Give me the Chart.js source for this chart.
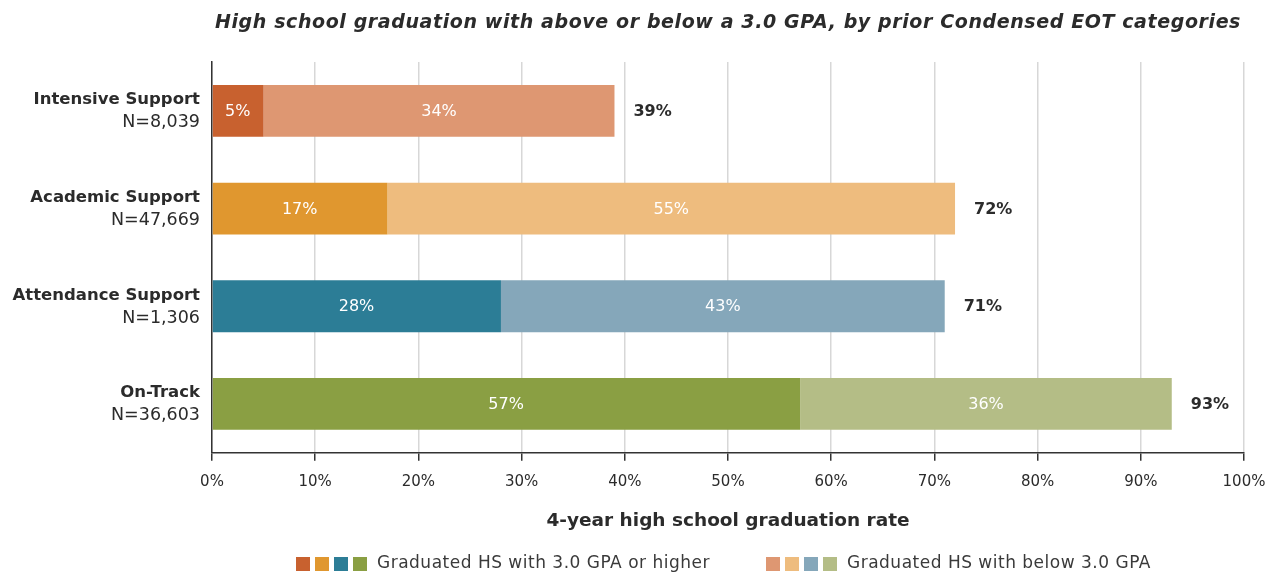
<!DOCTYPE html>
<html>
<head>
<meta charset="utf-8">
<script src="https://cdn.jsdelivr.net/npm/chart.js@4"></script>
<style>
  html, body { margin: 0; padding: 0; background: #ffffff; }
  #wrap { width: 1266px; height: 573px; position: relative; }
</style>
</head>
<body>
<div id="wrap"><canvas id="chart" width="1266" height="573"></canvas></div>
<script>
// Categories (prior Condensed EOT groups) and their counts
const categories = ['Intensive Support', 'Academic Support', 'Attendance Support', 'On-Track'];
const counts = ['N=8,039', 'N=47,669', 'N=1,306', 'N=36,603'];

// Percent graduating, split by GPA
const gpaAbove = [5, 17, 28, 57];
const gpaBelow = [34, 55, 43, 36];
const totals = [39, 72, 71, 93];

// Tick labels on the rate axis
const xTicks = [0, 10, 20, 30, 40, 50, 60, 70, 80, 90, 100];

const chartTitle = 'High school graduation with above or below a 3.0 GPA, by prior Condensed EOT categories';
const legendItems = ['Graduated HS with 3.0 GPA or higher', 'Graduated HS with below 3.0 GPA'];

const darkColors = ['#C8612F', '#E0972F', '#2C7D96', '#8A9F43'];
const lightColors = ['#DE9772', '#EEBC7E', '#85A7BA', '#B4BD86'];

const FONT = '"DejaVu Sans", sans-serif';
const TEXT = '#2b2b2b';

// Draws the title, category labels, segment values, totals and the legend
const annotate = {
  id: 'annotate',
  afterDatasetsDraw(chart) {
    const ctx = chart.ctx;
    const y = chart.scales.y;
    const x = chart.scales.x;
    const area = chart.chartArea;
    ctx.save();
    ctx.textBaseline = 'middle';

    // title, centred over the plot area
    ctx.textAlign = 'center';
    ctx.fillStyle = TEXT;
    ctx.font = 'italic 600 19px ' + FONT;
    ctx.letterSpacing = '0.6px';
    ctx.fillText(chartTitle, (area.left + area.right) / 2, 23);
    ctx.letterSpacing = '0px';

    // category names with counts, right aligned against the axis
    ctx.textAlign = 'right';
    categories.forEach((c, i) => {
      const cy = y.getPixelForValue(i);
      ctx.fillStyle = TEXT;
      ctx.font = '600 16.5px ' + FONT;
      ctx.fillText(c, 200, cy - 11);
      ctx.font = '400 17.5px ' + FONT;
      ctx.fillText(counts[i], 200, cy + 12);
    });

    // values inside each segment
    ctx.textAlign = 'center';
    ctx.fillStyle = '#ffffff';
    ctx.font = '400 16px ' + FONT;
    chart.data.datasets.forEach((ds, di) => {
      const meta = chart.getDatasetMeta(di);
      meta.data.forEach((bar, i) => {
        const v = ds.data[i];
        const left = di === 0 ? x.getPixelForValue(0) : x.getPixelForValue(gpaAbove[i]);
        const right = di === 0 ? x.getPixelForValue(gpaAbove[i]) : x.getPixelForValue(gpaAbove[i] + v);
        ctx.fillText(v + '%', (left + right) / 2, bar.y + 1);
      });
    });

    // totals past the end of each bar
    ctx.textAlign = 'left';
    ctx.fillStyle = TEXT;
    ctx.font = '700 16px ' + FONT;
    totals.forEach((t, i) => {
      ctx.fillText(t + '%', x.getPixelForValue(t) + 19, y.getPixelForValue(i) + 1);
    });

    // legend
    const ly = 564;
    const sq = 14, step = 19;
    const groups = [
      { x: 296, colors: darkColors, text: legendItems[0] },
      { x: 766, colors: lightColors, text: legendItems[1] }
    ];
    ctx.font = '400 17px ' + FONT;
    ctx.letterSpacing = '0.5px';
    groups.forEach(g => {
      g.colors.forEach((c, k) => {
        ctx.fillStyle = c;
        ctx.fillRect(g.x + k * step, ly - 7, sq, sq);
      });
      ctx.fillStyle = '#3a3a3a';
      ctx.fillText(g.text, g.x + 4 * step + 5, ly);
    });
    ctx.letterSpacing = '0px';

    ctx.restore();
  }
};

new Chart(document.getElementById('chart'), {
  type: 'bar',
  data: {
    labels: categories,
    datasets: [
      { label: legendItems[0], data: gpaAbove, backgroundColor: darkColors, borderWidth: 0 },
      { label: legendItems[1], data: gpaBelow, backgroundColor: lightColors, borderWidth: 0 }
    ]
  },
  options: {
    indexAxis: 'y',
    responsive: false,
    animation: false,
    layout: { padding: { left: 0, right: 22, top: 62, bottom: 41 } },
    barPercentage: 0.53,
    categoryPercentage: 1,
    plugins: {
      legend: { display: false },
      tooltip: { enabled: false },
      title: { display: false }
    },
    scales: {
      x: {
        stacked: true,
        min: 0,
        max: 100,
        afterBuildTicks(scale) { scale.ticks = xTicks.map(v => ({ value: v })); },
        afterFit(scale) { scale.paddingRight = 0; scale.paddingLeft = 0; },
        ticks: {
          callback: v => v + '%',
          color: TEXT,
          font: { family: FONT, size: 15 },
          padding: 12,
          maxRotation: 0
        },
        grid: { color: '#d7d7d7', lineWidth: 1.5, tickColor: '#333', tickLength: 8 },
        border: { display: true, color: '#333', width: 1.5 },
        title: {
          display: true,
          text: '4-year high school graduation rate',
          color: TEXT,
          font: { family: FONT, size: 18.5, weight: '600' },
          padding: { top: 7, bottom: 0 }
        }
      },
      y: {
        stacked: true,
        afterFit(scale) { scale.width = 212; },
        ticks: { display: false },
        grid: { display: false, drawTicks: false },
        border: { display: true, color: '#333', width: 1.5 }
      }
    }
  },
  plugins: [annotate]
});
</script>
</body>
</html>
